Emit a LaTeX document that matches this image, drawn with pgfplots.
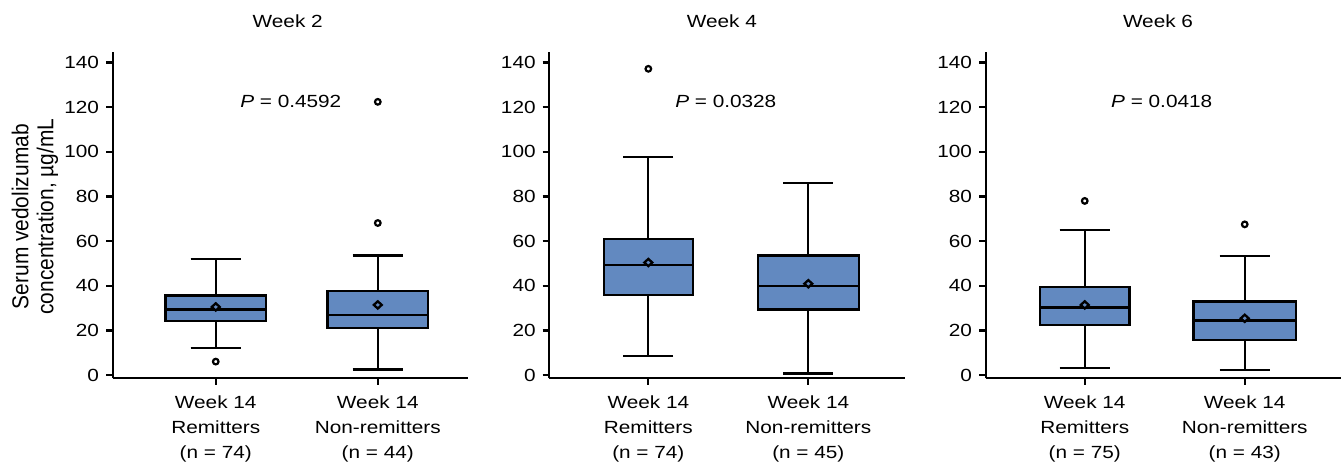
\documentclass[border=0pt]{standalone}
\usepackage{fontspec}
\setmainfont{Liberation Sans}[FakeStretch=1.18]
\newfontfamily\ylabfont{Liberation Sans}[FakeStretch=0.91]
\usepackage{pgfplots}
\pgfplotsset{compat=1.18}
\usepgfplotslibrary{statistics}
\definecolor{boxblue}{RGB}{98,137,192}
\newcommand{\tfont}{\fontsize{8.8}{12.5}\selectfont}
\pgfdeclareplotmark{wdiamond}{%
  \pgfpathmoveto{\pgfqpoint{0pt}{\pgfplotmarksize}}%
  \pgfpathlineto{\pgfqpoint{1.1\pgfplotmarksize}{0pt}}%
  \pgfpathlineto{\pgfqpoint{0pt}{-\pgfplotmarksize}}%
  \pgfpathlineto{\pgfqpoint{-1.1\pgfplotmarksize}{0pt}}%
  \pgfpathclose
  \pgfusepathqfillstroke}
\pgfplotsset{
  panel/.style={
    scale only axis, width=177.75pt, height=163pt,
    anchor=south west,
    axis lines=left,
    axis line style={-, line width=1.15pt, black},
    ymin=-1.48, ymax=144.6,
    ytick={0,20,...,140},
    xtick={1,2},
    tick align=outside,
    major tick length=3.3pt,
    tick style={line width=1.15pt, black},
    ticklabel style={font=\tfont},
    xticklabel style={align=center, yshift=-2pt},
    /pgf/number format/assume math mode=true,
    clip=false,
    boxplot/draw direction=y,
    boxplot/every average/.style={/tikz/mark=wdiamond, /tikz/mark size=1.8pt, /tikz/fill=white, /tikz/draw=black, /tikz/line width=0.9pt},
  },
  bx/.style={draw=black, fill=boxblue, line width=1.15pt, mark=*, mark size=1.4pt,
    mark options={fill=white, draw=black, line width=1.1pt, solid}},
}
\begin{document}
\begin{tikzpicture}
\useasboundingbox (0,0) rectangle (671.5pt,233pt);
\node[rotate=90, align=center, inner sep=0pt, font=\ylabfont\fontsize{11.5}{12.5}\selectfont] at (17.5pt,124.65pt) {Serum vedolizumab\\concentration, µg/mL};
% Panel 1
\begin{axis}[panel, at={(56.35pt,43.85pt)}, xmin=0.364, xmax=2.558,
  xticklabels={{Week 14\\Remitters\\(n = 74)},{Week 14\\Non-remitters\\(n = 44)}}]
\addplot[bx, boxplot prepared={draw position=1, lower whisker=12.1, lower quartile=24.2, median=29.3, upper quartile=35.6, upper whisker=52.0, average=30.5, box extend=0.62, whisker extend=0.31}] table[row sep=\\, y index=0] {y\\ 6.0\\};
\addplot[bx, boxplot prepared={draw position=2, lower whisker=2.4, lower quartile=21.1, median=27.0, upper quartile=37.7, upper whisker=53.6, average=31.4, box extend=0.62, whisker extend=0.31}] table[row sep=\\, y index=0] {y\\ 68.1\\ 122.4\\};
\node[anchor=base, font=\tfont] at (axis cs:1.463,119.8) {\textit{P} = 0.4592};
\node[anchor=base, font=\tfont, yshift=12.2pt] at (axis cs:1.444,144.6) {Week 2};
\end{axis}
% Panel 2
\begin{axis}[panel, at={(274.65pt,43.85pt)}, xmin=0.381, xmax=2.603,
  xticklabels={{Week 14\\Remitters\\(n = 74)},{Week 14\\Non-remitters\\(n = 45)}}]
\addplot[bx, boxplot prepared={draw position=1, lower whisker=8.5, lower quartile=35.9, median=49.3, upper quartile=60.8, upper whisker=97.6, average=50.4, box extend=0.555, whisker extend=0.3125}] table[row sep=\\, y index=0] {y\\ 137.2\\};
\addplot[bx, boxplot prepared={draw position=2, lower whisker=0.7, lower quartile=29.3, median=39.9, upper quartile=53.5, upper whisker=86.1, average=40.9, box extend=0.63, whisker extend=0.3125}] coordinates {};
\node[anchor=base, font=\tfont] at (axis cs:1.484,119.8) {\textit{P} = 0.0328};
\node[anchor=base, font=\tfont, yshift=12.2pt] at (axis cs:1.46,144.6) {Week 4};
\end{axis}
% Panel 3
\begin{axis}[panel, at={(492.85pt,43.85pt)}, xmin=0.381, xmax=2.603,
  xticklabels={{Week 14\\Remitters\\(n = 75)},{Week 14\\Non-remitters\\(n = 43)}}]
\addplot[bx, boxplot prepared={draw position=1, lower whisker=3.0, lower quartile=22.3, median=30.3, upper quartile=39.4, upper whisker=65.1, average=31.4, box extend=0.56, whisker extend=0.3125}] table[row sep=\\, y index=0] {y\\ 78.0\\};
\addplot[bx, boxplot prepared={draw position=2, lower whisker=2.1, lower quartile=15.8, median=24.4, upper quartile=32.9, upper whisker=53.3, average=25.4, box extend=0.64, whisker extend=0.3125}] table[row sep=\\, y index=0] {y\\ 67.5\\};
\node[anchor=base, font=\tfont] at (axis cs:1.481,119.8) {\textit{P} = 0.0418};
\node[anchor=base, font=\tfont, yshift=12.2pt] at (axis cs:1.458,144.6) {Week 6};
\end{axis}
\end{tikzpicture}
\end{document}
